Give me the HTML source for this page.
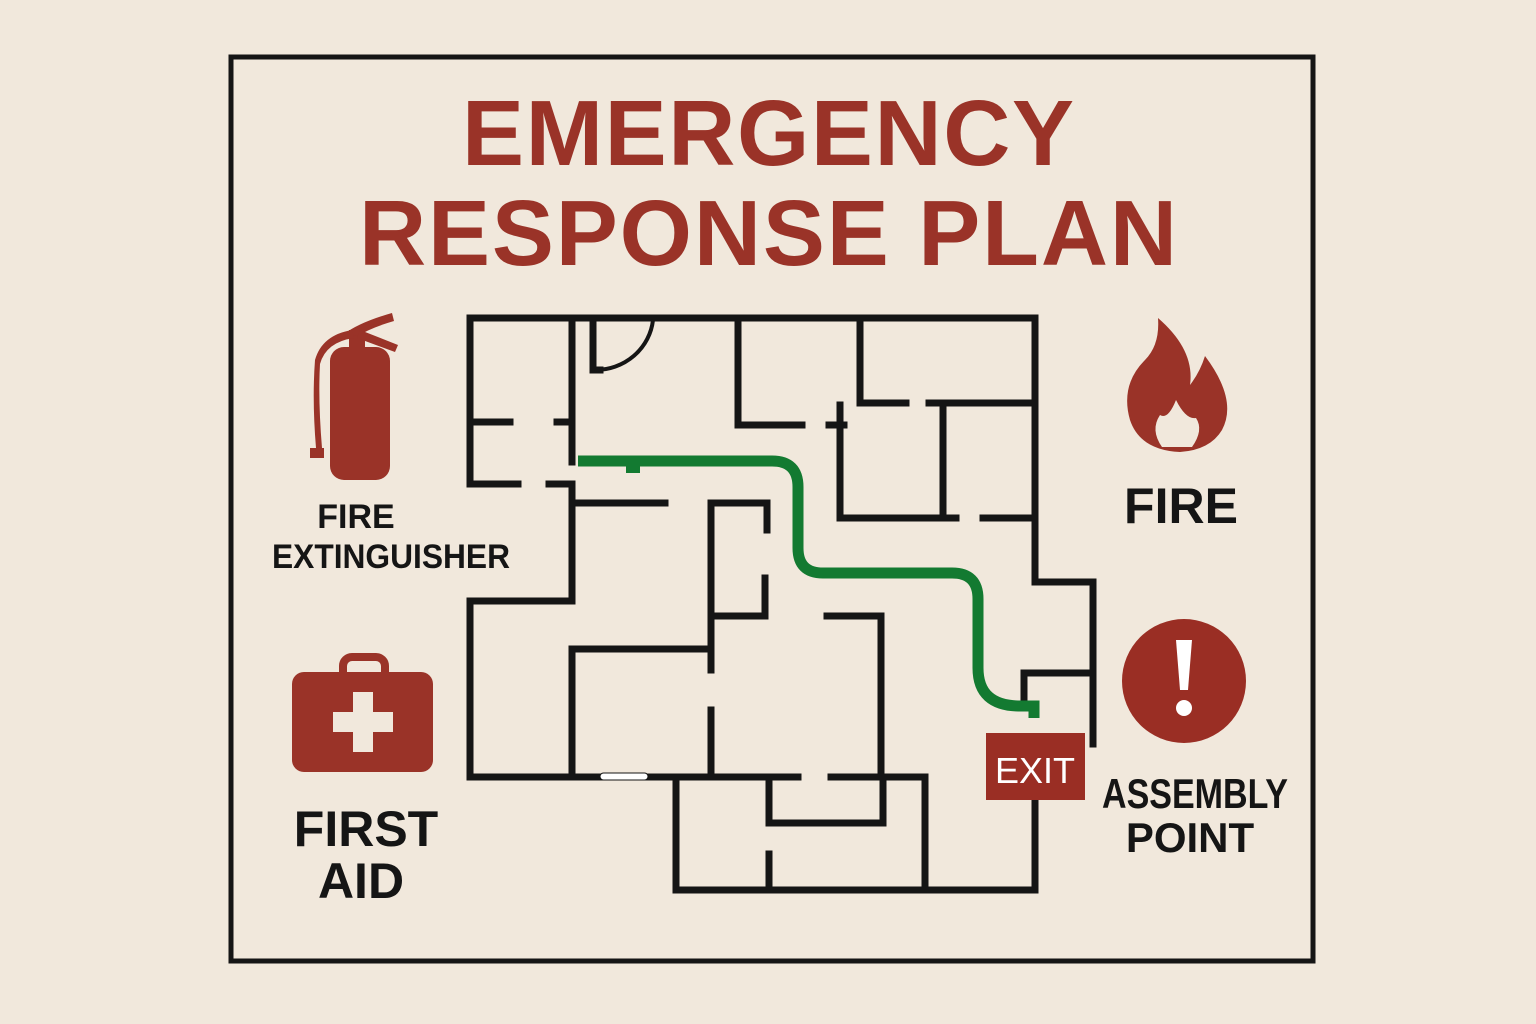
<!DOCTYPE html>
<html><head><meta charset="utf-8"><style>
html,body{margin:0;padding:0;background:#f1e8dc;}
svg{display:block}
</style></head><body>
<svg width="1536" height="1024" viewBox="0 0 1536 1024" xmlns="http://www.w3.org/2000/svg">
<rect width="1536" height="1024" fill="#f1e8dc"/>
<rect x="231" y="57" width="1082" height="904" fill="none" stroke="#151515" stroke-width="5"/>
<g font-family="Liberation Sans, sans-serif" font-weight="bold" fill="#9a3328" text-anchor="middle">
<text x="768" y="165" font-size="93" textLength="612" lengthAdjust="spacing">EMERGENCY</text>
<text x="768" y="265" font-size="93" textLength="818" lengthAdjust="spacing">RESPONSE PLAN</text>
</g>
<g stroke="#151515" stroke-width="7" fill="none" stroke-linecap="square">
<path d="M470 318 H1035 V582 H1093 V744"/>
<path d="M1035 800 V890 H676 V777"/>
<path d="M470 318 V484 H518"/>
<path d="M549 484 H572 V601 H470 V777 H798"/>
<path d="M831 777 H925 V890"/>
<path d="M470 422 H510"/>
<path d="M557 422 H572"/>
<path d="M572 318 V462"/>
<path d="M593 318 V370 H600"/>
<path d="M738 318 V425 H802"/>
<path d="M829 425 H844"/>
<path d="M840 405 V518 H956"/>
<path d="M860 318 V403 H906"/>
<path d="M929 403 H1030"/>
<path d="M943 405 V516"/>
<path d="M983 518 H1030"/>
<path d="M578 503 H665"/>
<path d="M711 670 V503 H767 V530"/>
<path d="M765 578 V616 H711"/>
<path d="M827 616 H881 V777"/>
<path d="M572 777 V649 H711"/>
<path d="M711 710 V777"/>
<path d="M769 777 V823 H883 V777"/>
<path d="M769 854 V890"/>
<path d="M1024 698 V673 H1093"/>
</g>
<path d="M595 370 A58 56 0 0 0 653 320" fill="none" stroke="#151515" stroke-width="4"/>
<rect x="600" y="773" width="48" height="7" rx="3.5" fill="#fff" stroke="#151515" stroke-width="1"/>
<path d="M578 461 H772 Q798 461 798 487 V548 Q798 573 823 573 H952 Q978 573 978 599 V668 Q978 706 1020 706 H1034 V718" fill="none" stroke="#137a31" stroke-width="11"/>
<rect x="626" y="462" width="14" height="11" fill="#137a31"/>
<rect x="986" y="733" width="99" height="67" fill="#9a2e24"/>
<text x="1035" y="783" font-family="Liberation Sans, sans-serif" font-size="36" fill="#fff" text-anchor="middle">EXIT</text>
<g fill="#9a3328">
<rect x="330" y="347" width="60" height="133" rx="14"/>
<rect x="349" y="330" width="16" height="22"/>
<path d="M344 334 Q360 322 392 313 L394 321 Q370 328 358 336 Z"/>
<path d="M360 330 L398 345 L395 352 L357 338 Z"/>
<path d="M352 330 Q322 335 315 360 Q312 400 316 448 L310 448 L310 458 L324 458 L324 448 L322 448 Q318 400 320 364 Q326 342 354 338 Z"/>
</g>
<g font-family="Liberation Sans, sans-serif" font-weight="bold" fill="#151515" text-anchor="middle">
<text x="356" y="528" font-size="34">FIRE</text>
<text x="391" y="568" font-size="34" textLength="238" lengthAdjust="spacingAndGlyphs">EXTINGUISHER</text>
<text x="1181" y="523" font-size="50">FIRE</text>
<text x="366" y="846" font-size="50">FIRST</text>
<text x="361" y="898" font-size="50">AID</text>
<text x="1195" y="808" font-size="42" textLength="186" lengthAdjust="spacingAndGlyphs">ASSEMBLY</text>
<text x="1190" y="852" font-size="42">POINT</text>
</g>
<path fill="#9a3328" d="M1158 318 Q1195 350 1190 385 Q1200 372 1205 356 Q1238 400 1222 430 Q1210 450 1180 452 Q1140 450 1130 420 Q1120 385 1145 360 Q1160 345 1158 318 Z"/>
<path fill="#f1e8dc" d="M1176 400 Q1186 420 1196 418 Q1204 430 1192 447 L1162 447 Q1150 430 1160 415 Q1168 420 1176 400 Z"/>
<circle cx="1184" cy="681" r="62" fill="#9a2e24"/>
<path d="M1176 640 H1192 L1188 690 H1180 Z" fill="#fff"/>
<circle cx="1184" cy="708" r="8" fill="#fff"/>
<rect x="343" y="657" width="42" height="24" rx="9" fill="none" stroke="#9a3328" stroke-width="8"/>
<rect x="292" y="672" width="141" height="100" rx="12" fill="#9a3328"/>
<rect x="353" y="692" width="20" height="60" fill="#f1e8dc"/>
<rect x="333" y="712" width="60" height="20" fill="#f1e8dc"/>
</svg>
</body></html>
